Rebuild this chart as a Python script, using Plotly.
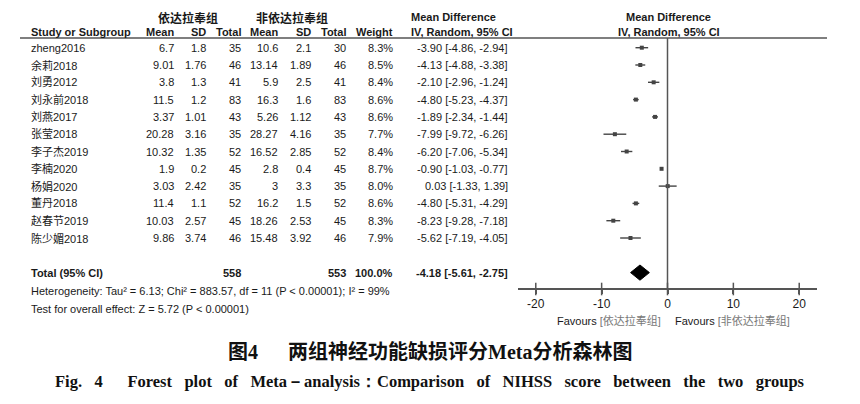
import plotly.graph_objects as go

# ---------------- data ----------------
studies = ["zheng2016", "余莉2018", "刘勇2012", "刘永前2018", "刘燕2017", "张莹2018",
           "李子杰2019", "李楠2020", "杨娟2020", "董丹2018", "赵春节2019", "陈少媚2018"]
exp_mean = ["6.7", "9.01", "3.8", "11.5", "3.37", "20.28", "10.32", "1.9", "3.03", "11.4", "10.03", "9.86"]
exp_sd = ["1.8", "1.76", "1.3", "1.2", "1.01", "3.16", "1.35", "0.2", "2.42", "1.1", "2.57", "3.74"]
exp_n = [35, 46, 41, 83, 43, 35, 52, 45, 35, 52, 45, 46]
ctl_mean = ["10.6", "13.14", "5.9", "16.3", "5.26", "28.27", "16.52", "2.8", "3", "16.2", "18.26", "15.48"]
ctl_sd = ["2.1", "1.89", "2.5", "1.6", "1.12", "4.16", "2.85", "0.4", "3.3", "1.5", "2.53", "3.92"]
ctl_n = [30, 46, 41, 83, 43, 35, 52, 45, 35, 52, 45, 46]
weight = [8.3, 8.5, 8.4, 8.6, 8.6, 7.7, 8.4, 8.7, 8.0, 8.6, 8.3, 7.9]
md = [-3.90, -4.13, -2.10, -4.80, -1.89, -7.99, -6.20, -0.90, 0.03, -4.80, -8.23, -5.62]
ci_lo = [-4.86, -4.88, -2.96, -5.23, -2.34, -9.72, -7.06, -1.03, -1.33, -5.31, -9.28, -7.19]
ci_hi = [-2.94, -3.38, -1.24, -4.37, -1.44, -6.26, -5.34, -0.77, 1.39, -4.29, -7.18, -4.05]
total_exp, total_ctl, total_w = 558, 553, "100.0%"
pooled_md, pooled_lo, pooled_hi = -4.18, -5.61, -2.75
tick_vals = [-20, -10, 0, 10, 20]
tick_text = ["-20", "-10", "0", "10", "20"]
heterogeneity = "Heterogeneity: Tau² = 6.13; Chi² = 883.57, df = 11 (P < 0.00001); I² = 99%"
overall = "Test for overall effect: Z = 5.72 (P < 0.00001)"
caption_cn = "图4&nbsp;&nbsp;&nbsp;&nbsp;&nbsp;&nbsp;两组神经功能缺损评分Meta分析森林图"
caption_en_words = ["Fig.", "4", "&nbsp;&nbsp;&nbsp;Forest", "plot", "of", "Meta－analysis：Comparison",
                    "of", "NIHSS", "score", "between", "the", "two", "groups"]

# ---------------- layout helpers ----------------
W, H = 860, 404
ROW0, ROWH = 47.7, 17.3
def row_of(px):
    return (px - ROW0) / ROWH

FONT = "Liberation Sans, Arial, Noto Sans CJK SC, sans-serif"
TXT = "#1a1a1a"
LINE = "#555555"
rows = list(range(len(studies)))
total_row = len(studies) + 1
axis_row = row_of(289)
hdr_line_row = row_of(38)

fig = go.Figure()

# study CIs and points
fig.add_trace(go.Scatter(
    x=md, y=rows, mode="markers",
    marker=dict(symbol="square", size=4, color="#444444"),
    error_x=dict(type="data", symmetric=False,
                 array=[h - m for h, m in zip(ci_hi, md)],
                 arrayminus=[m - l for m, l in zip(md, ci_lo)],
                 width=0, thickness=1.4, color="#444444"),
    showlegend=False, hoverinfo="skip"))

# pooled diamond
dh = 0.44
fig.add_trace(go.Scatter(
    x=[pooled_lo, pooled_md, pooled_hi, pooled_md, pooled_lo],
    y=[total_row, total_row - dh, total_row, total_row + dh, total_row],
    mode="lines", fill="toself", fillcolor="black",
    line=dict(color="black", width=1), showlegend=False, hoverinfo="skip"))

# crossing tick marks on axis
fig.add_trace(go.Scatter(
    x=tick_vals, y=[axis_row] * len(tick_vals), mode="markers",
    marker=dict(symbol="line-ns", size=9, line=dict(width=1.5, color=LINE)),
    showlegend=False, hoverinfo="skip"))

# zero line
fig.add_shape(type="line", xref="x", yref="y", x0=0, x1=0,
              y0=hdr_line_row, y1=axis_row, line=dict(color=LINE, width=1.5))
# header rule
fig.add_shape(type="line", xref="paper", yref="y", x0=20 / W, x1=827 / W,
              y0=hdr_line_row, y1=hdr_line_row, line=dict(color=LINE, width=1.5))

ann = []
def txt(px, r, s, anchor="right", bold=False, size=11, color=TXT, family=FONT):
    ann.append(dict(x=px / W, y=r, xref="paper", yref="y", text=("<b>%s</b>" % s) if bold else s,
                    xanchor=anchor, yanchor="middle", showarrow=False,
                    font=dict(size=size, color=color, family=family)))

# headers
g_row = row_of(17)
h_row = row_of(32)
txt(188, g_row, "依达拉奉组", "center", True, 12, family="Noto Sans CJK SC")
txt(292, g_row, "非依达拉奉组", "center", True, 12, family="Noto Sans CJK SC")
txt(409, g_row, "Mean Difference", "left", True)
txt(668, g_row, "Mean Difference", "center", True)
txt(29, h_row, "Study or Subgroup", "left", True)
for px, s in [(176, "Mean"), (208, "SD"), (243, "Total"), (280, "Mean"), (313, "SD"),
              (348, "Total"), (395, "Weight")]:
    txt(px, h_row, s, "right", True)
txt(409, h_row, "IV, Random, 95% CI", "left", True)
txt(669, h_row, "IV, Random, 95% CI", "center", True)

# study rows
for i in rows:
    txt(29, i, studies[i], "left")
    txt(176, i, exp_mean[i])
    txt(208, i, exp_sd[i])
    txt(243, i, str(exp_n[i]))
    txt(280, i, ctl_mean[i])
    txt(313, i, ctl_sd[i])
    txt(348, i, str(ctl_n[i]))
    txt(395, i, "%.1f%%" % weight[i])
    txt(510, i, "%.2f [%.2f, %.2f]" % (md[i], ci_lo[i], ci_hi[i]))

# total row
txt(29, total_row, "Total (95% CI)", "left", True)
txt(243, total_row, str(total_exp), bold=True)
txt(348, total_row, str(total_ctl), bold=True)
txt(395, total_row, total_w, bold=True)
txt(510, total_row, "%.2f [%.2f, %.2f]" % (pooled_md, pooled_lo, pooled_hi), bold=True)
txt(29, row_of(291), heterogeneity, "left", size=11)
txt(29, row_of(309), overall, "left", size=11)

# favours
fav_row = row_of(320)
txt(663, fav_row, "Favours <span style='color:#777'>[依达拉奉组]</span>", "right", size=11)
txt(673, fav_row, "Favours <span style='color:#777'>[非依达拉奉组]</span>", "left", size=11)

# captions
ann.append(dict(x=0.5, y=1 - 352 / H, xref="paper", yref="paper", text="<b>" + caption_cn + "</b>",
                showarrow=False, xanchor="center", yanchor="middle",
                font=dict(size=20, color="#111", family="Liberation Serif, Noto Sans CJK SC, serif")))
ann.append(dict(x=0.5, y=1 - 381 / H, xref="paper", yref="paper",
                text="<b>" + " &nbsp;&nbsp;".join(caption_en_words) + "</b>",
                showarrow=False, xanchor="center", yanchor="middle",
                font=dict(size=16.5, color="#111", family="Liberation Serif, Times New Roman, serif")))

fig.update_layout(
    width=W, height=H, margin=dict(l=0, r=0, t=0, b=0),
    paper_bgcolor="white", plot_bgcolor="rgba(0,0,0,0)",
    annotations=ann, showlegend=False,
    xaxis=dict(domain=[518 / W, 817 / W], range=[-22.7, 22.7], anchor="free",
               position=1 - 289 / H, showline=True, linecolor=LINE, linewidth=1.5,
               tickvals=tick_vals, ticktext=tick_text, ticks="outside", ticklen=4,
               tickwidth=1.5, tickcolor=LINE, showgrid=False, zeroline=False,
               tickfont=dict(size=12, color=TXT, family=FONT), fixedrange=True),
    yaxis=dict(domain=[0, 1], range=[(H - ROW0) / ROWH, -ROW0 / ROWH], visible=False,
               showgrid=False, zeroline=False, fixedrange=True),
)

fig.write_html("out.html", config={"displayModeBar": False},
               post_script="document.body.style.margin='0';document.body.style.overflow='hidden';")
